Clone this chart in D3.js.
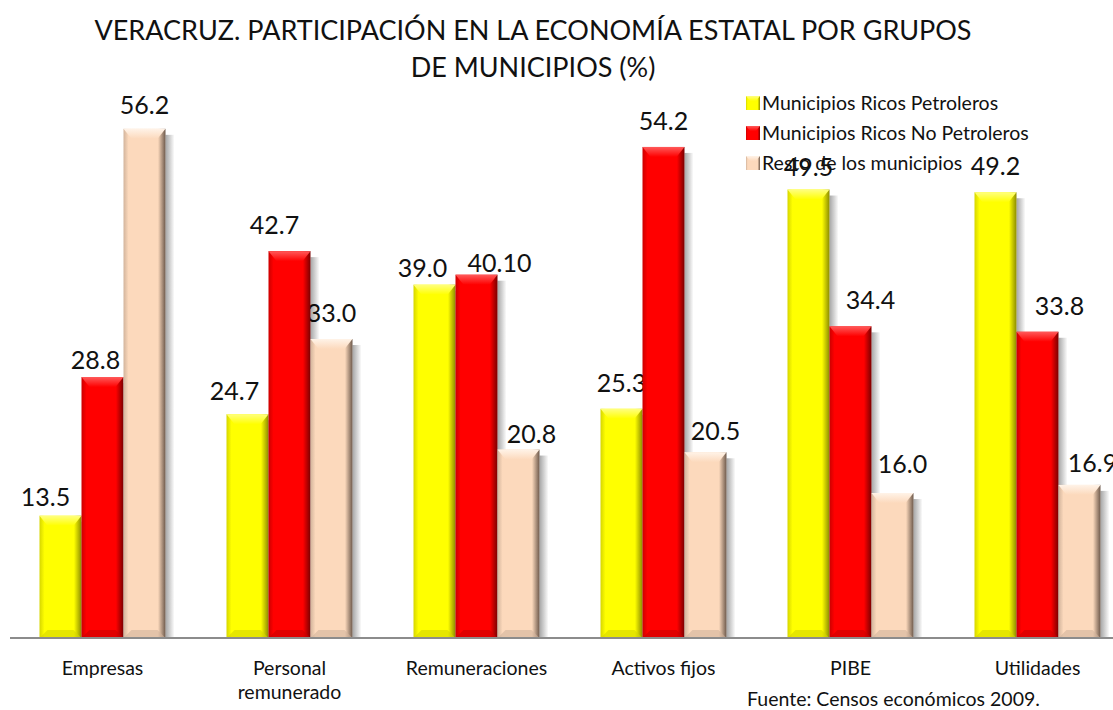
<!DOCTYPE html>
<html>
<head>
<meta charset="utf-8">
<script src="https://cdnjs.cloudflare.com/ajax/libs/d3/7.8.5/d3.min.js"></script>
<style>
  body { margin: 0; background: #fff; }
  svg { display: block; }
  text { font-family: Lato, "Open Sans", sans-serif; fill: #111; }
</style>
</head>
<body>
<svg id="chart" width="1113" height="710"></svg>
<script>
const categories = ["Empresas", "Personal\nremunerado", "Remuneraciones", "Activos fijos", "PIBE", "Utilidades"];
const seriesNames = ["Municipios Ricos Petroleros", "Municipios Ricos No Petroleros", "Resto de los municipios"];
const petroleros = [13.5, 24.7, 39.0, 25.3, 49.5, 49.2];
const noPetroleros = [28.8, 42.7, 40.1, 54.2, 34.4, 33.8];
const resto = [56.2, 33.0, 20.8, 20.5, 16.0, 16.9];
const petrolerosLbl = ["13.5", "24.7", "39.0", "25.3", "49.5", "49.2"];
const noPetrolerosLbl = ["28.8", "42.7", "40.10", "54.2", "34.4", "33.8"];
const restoLbl = ["56.2", "33.0", "20.8", "20.5", "16.0", "16.9"];

const colors = [
    { base: "#ffff00", light: "#ffff80", dark: "#8c8c00", mid: "#d6d600" },
    { base: "#ff0000", light: "#ff5a5a", dark: "#7a0000", mid: "#cc0000" },
    { base: "#fcd9bc", light: "#fff3e8", dark: "#6e5a4c", mid: "#d2b49c" }
];

const svg = d3.select("#chart");
const series = [petroleros, noPetroleros, resto];
const labels = [petrolerosLbl, noPetrolerosLbl, restoLbl];

const x = d3.scaleBand().domain(categories).range([9, 1131]).paddingInner(0).paddingOuter(0);
const x1 = d3.scaleBand().domain([0, 1, 2]).range([0, 126]);
const y = d3.scaleLinear().domain([0, 60]).range([638, 94.4]);

const defs = svg.append("defs");
colors.forEach((c, i) => {
    const g = defs.append("linearGradient").attr("id", "side" + i)
        .attr("x1", 0).attr("x2", 1).attr("y1", 0).attr("y2", 0);
    g.append("stop").attr("offset", "0%").attr("stop-color", c.mid);
    g.append("stop").attr("offset", "12%").attr("stop-color", c.base);
    g.append("stop").attr("offset", "82%").attr("stop-color", c.base);
    g.append("stop").attr("offset", "100%").attr("stop-color", c.dark);
    const t = defs.append("linearGradient").attr("id", "top" + i)
        .attr("x1", 0).attr("x2", 0).attr("y1", 0).attr("y2", 1);
    t.append("stop").attr("offset", "0%").attr("stop-color", c.light);
    t.append("stop").attr("offset", "100%").attr("stop-color", c.base);
});
const sh = defs.append("linearGradient").attr("id", "shadow")
    .attr("x1", 0).attr("x2", 1).attr("y1", 0).attr("y2", 0);
sh.append("stop").attr("offset", "0%").attr("stop-color", "#000").attr("stop-opacity", 0.35);
sh.append("stop").attr("offset", "100%").attr("stop-color", "#000").attr("stop-opacity", 0);

// title
svg.append("text").attr("x", 533).attr("y", 40).attr("text-anchor", "middle")
    .style("font-size", "27px").text("VERACRUZ. PARTICIPACIÓN EN LA ECONOMÍA ESTATAL POR GRUPOS");
svg.append("text").attr("x", 533).attr("y", 77).attr("text-anchor", "middle")
    .style("font-size", "27px").text("DE MUNICIPIOS (%)");

const bw = x1.bandwidth();
const barStart = d => x(d) + x.bandwidth() / 2 - 63;

// legend (sits under the value labels, like the original)
const legend = svg.append("g").attr("transform", "translate(746,96)");
seriesNames.forEach((n, i) => {
    const row = legend.append("g").attr("transform", `translate(0,${i * 30})`);
    row.append("rect").attr("x", 0).attr("y", 0).attr("width", 14).attr("height", 14)
        .attr("fill", `url(#side${i})`);
    row.append("path").attr("d", "M0,0L14,0L10,5L4,5Z").attr("fill", `url(#top${i})`);
    row.append("text").attr("x", 16).attr("y", 14).style("font-size", "19.5px").text(n);
});

// value labels, drawn below the bars
// the labels in the original were dragged around by hand, these are the offsets
const nudgeX = [[-15, -13, -12, 0, 0, 0], [-7, -15, 23, 0, 20, 22], [0, 0, 13, 10, 10, 13]];
const nudgeY = [[7, 3, 9, 0, 3, 0], [9, 0, 14, 0, 0, 0], [2, 0, 10, 5, -3, 4]];
series.forEach((vals, s) => {
    vals.forEach((v, i) => {
        const cat = categories[i];
        svg.append("text")
            .attr("x", barStart(cat) + x1(s) + bw / 2 + nudgeX[s][i])
            .attr("y", y(v) - 17 + nudgeY[s][i])
            .attr("text-anchor", "middle")
            .style("font-size", "25px")
            .text(labels[s][i]);
    });
});

// bars
series.forEach((vals, s) => {
    const grp = svg.append("g");
    vals.forEach((v, i) => {
        const cat = categories[i];
        const x0 = barStart(cat) + x1(s);
        const y0 = y(v);
        const h = y(0) - y0;
        const b = 8;
        grp.append("rect").attr("x", x0 + bw).attr("y", y0 + 6).attr("width", 9).attr("height", h - 6)
            .attr("fill", "url(#shadow)");
        grp.append("rect").attr("x", x0).attr("y", y0).attr("width", bw).attr("height", h)
            .attr("fill", `url(#side${s})`);
        grp.append("path")
            .attr("d", `M${x0},${y0}L${x0 + bw},${y0}L${x0 + bw - b},${y0 + b + 2}L${x0 + b},${y0 + b + 2}Z`)
            .attr("fill", `url(#top${s})`);
        grp.append("path")
            .attr("d", `M${x0},${y(0)}L${x0 + bw},${y(0)}L${x0 + bw - b},${y(0) - b}L${x0 + b},${y(0) - b}Z`)
            .attr("fill", colors[s].mid).attr("opacity", 0.6);
    });
});

// axis line
svg.append("line").attr("x1", 10).attr("x2", 1113).attr("y1", y(0)).attr("y2", y(0))
    .attr("stroke", "#8c8c8c").attr("stroke-width", 2);

// category labels
categories.forEach(cat => {
    const lines = cat.split("\n");
    const t = svg.append("text").attr("text-anchor", "middle").style("font-size", "19.5px");
    lines.forEach((l, k) => {
        t.append("tspan").attr("x", x(cat) + x.bandwidth() / 2).attr("y", 675 + k * 24).text(l);
    });
});

svg.append("text").attr("x", 747).attr("y", 706).style("font-size", "19.5px")
    .text("Fuente: Censos económicos 2009.");
</script>
</body>
</html>
